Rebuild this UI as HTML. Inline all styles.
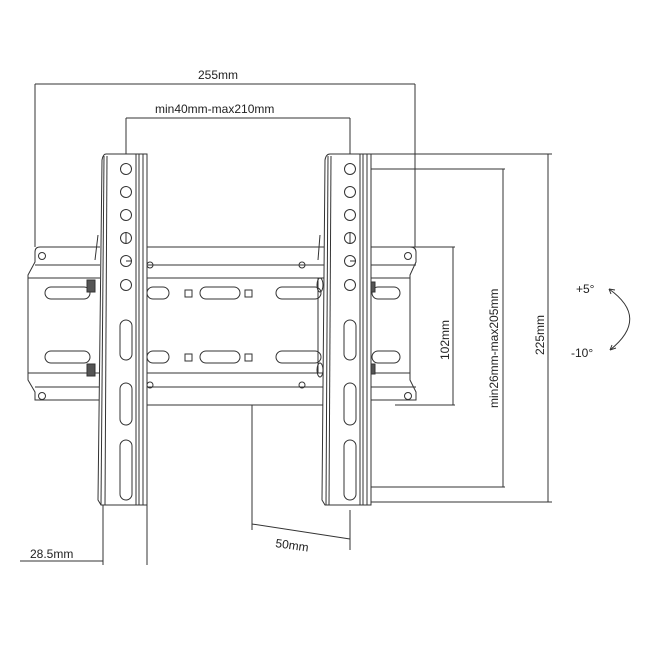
<!DOCTYPE html>
<html><head><style>
html,body{margin:0;padding:0;background:#fff;}
svg{display:block}
text{font-family:"Liberation Sans",sans-serif;font-size:12px;fill:#222}
</style></head><body>
<svg width="650" height="650" viewBox="0 0 650 650" xmlns="http://www.w3.org/2000/svg">
<g fill="none" stroke="#333" stroke-width="1">
<!-- dimension lines -->
<line x1="35" y1="84" x2="415" y2="84"/>
<line x1="35" y1="84" x2="35" y2="247"/>
<line x1="415" y1="84" x2="415" y2="247"/>
<line x1="126" y1="118" x2="350" y2="118"/>
<line x1="126" y1="118" x2="126" y2="165"/>
<line x1="350" y1="118" x2="350" y2="165"/>
<line x1="370" y1="154" x2="552" y2="154"/>
<line x1="370" y1="502" x2="552" y2="502"/>
<line x1="548" y1="154" x2="548" y2="502"/>
<line x1="355" y1="169" x2="505" y2="169"/>
<line x1="355" y1="487" x2="505" y2="487"/>
<line x1="503" y1="169" x2="503" y2="487"/>
<line x1="395" y1="247" x2="455" y2="247"/>
<line x1="395" y1="405" x2="455" y2="405"/>
<line x1="453" y1="247" x2="453" y2="405"/>
<line x1="20" y1="561" x2="103" y2="561"/>
<line x1="103" y1="505" x2="103" y2="565"/>
<line x1="147" y1="505" x2="147" y2="565"/>
<line x1="252" y1="405" x2="252" y2="530"/>
<line x1="350" y1="510" x2="350" y2="550"/>
<line x1="252" y1="524" x2="350" y2="539"/>
<!-- wall plate left -->
<path d="M100 247 L40 247 Q35 247 35 252 L35 262 L28 275 L28 380 L35 392 L35 400 L100 400"/>
<line x1="35" y1="265" x2="100" y2="265"/>
<line x1="28" y1="278" x2="100" y2="278"/>
<line x1="28" y1="373" x2="100" y2="373"/>
<line x1="35" y1="387" x2="100" y2="387"/>
<rect x="45" y="287" width="45" height="12" rx="6"/>
<rect x="45" y="351" width="45" height="12" rx="6"/>
<circle cx="42" cy="256" r="3.5"/><circle cx="42" cy="396" r="3.5"/>
<!-- wall plate right -->
<path d="M370 247 L410 247 Q416 247 416 252 L416 262 L410 275 L410 380 L416 392 L416 400 L370 400"/>
<line x1="370" y1="265" x2="416" y2="265"/>
<line x1="370" y1="278" x2="410" y2="278"/>
<line x1="370" y1="373" x2="410" y2="373"/>
<line x1="370" y1="387" x2="416" y2="387"/>
<rect x="372" y="287" width="28" height="12" rx="6"/>
<rect x="372" y="351" width="28" height="12" rx="6"/>
<circle cx="408" cy="256" r="3.5"/><circle cx="408" cy="396" r="3.5"/>
<!-- middle -->
<line x1="147" y1="247" x2="325" y2="247"/>
<line x1="147" y1="265" x2="325" y2="265"/>
<line x1="147" y1="278" x2="325" y2="278"/>
<line x1="147" y1="373" x2="325" y2="373"/>
<line x1="147" y1="387" x2="325" y2="387"/>
<line x1="147" y1="405" x2="325" y2="405"/>
<line x1="318" y1="278" x2="318" y2="373"/>
<rect x="147" y="287" width="22" height="12" rx="6"/><rect x="147" y="351" width="22" height="12" rx="6"/>
<rect x="185" y="290" width="7" height="7"/><rect x="185" y="354" width="7" height="7"/>
<rect x="200" y="287" width="40" height="12" rx="6"/><rect x="200" y="351" width="40" height="12" rx="6"/>
<rect x="245" y="290" width="7" height="7"/><rect x="245" y="354" width="7" height="7"/>
<rect x="276" y="287" width="45" height="12" rx="6"/><rect x="276" y="351" width="45" height="12" rx="6"/>
<circle cx="150" cy="265" r="3"/><circle cx="150" cy="385" r="3"/>
<circle cx="302" cy="265" r="3"/><circle cx="302" cy="385" r="3"/>
<ellipse cx="320" cy="285" rx="3" ry="7"/><ellipse cx="320" cy="370" rx="3" ry="7"/>
<!-- left arm -->
<path d="M147 154 L106 154 Q103 154 102 160 L98 500 L101 505 L147 505 Z" fill="#fff"/>
<line x1="104" y1="156" x2="101" y2="505"/><line x1="107" y1="156" x2="105" y2="505"/>
<line x1="136" y1="154" x2="136" y2="505"/><line x1="139" y1="154" x2="139" y2="505"/><line x1="143" y1="154" x2="143" y2="505"/>
<line x1="98" y1="235" x2="95" y2="260"/>
<!-- right arm -->
<path d="M371 154 L330 154 Q326 154 325 160 L322 500 L325 505 L371 505 Z" fill="#fff"/>
<line x1="328" y1="156" x2="326" y2="505"/><line x1="331" y1="156" x2="329" y2="505"/>
<line x1="360" y1="154" x2="360" y2="505"/><line x1="363" y1="154" x2="363" y2="505"/><line x1="367" y1="154" x2="367" y2="505"/>
<line x1="320" y1="235" x2="318" y2="260"/>
<!-- holes -->
<g>
<circle cx="126" cy="169" r="5.5"/><circle cx="126" cy="192" r="5.5"/><circle cx="126" cy="215" r="5.5"/><circle cx="126" cy="238" r="5.5"/><circle cx="126" cy="261" r="5.5"/><circle cx="126" cy="285" r="5.5"/>
<rect x="120" y="320" width="12" height="40" rx="6"/><rect x="120" y="383" width="12" height="42" rx="6"/><rect x="120" y="440" width="12" height="60" rx="6"/>
<line x1="126" y1="232" x2="126" y2="244"/><line x1="126" y1="261" x2="131" y2="261"/>
<circle cx="350" cy="169" r="5.5"/><circle cx="350" cy="192" r="5.5"/><circle cx="350" cy="215" r="5.5"/><circle cx="350" cy="238" r="5.5"/><circle cx="350" cy="261" r="5.5"/><circle cx="350" cy="285" r="5.5"/>
<rect x="344" y="320" width="12" height="40" rx="6"/><rect x="344" y="383" width="12" height="42" rx="6"/><rect x="344" y="440" width="12" height="60" rx="6"/>
<line x1="350" y1="232" x2="350" y2="244"/><line x1="350" y1="261" x2="355" y2="261"/>
</g>
<!-- nuts -->
<rect x="87" y="280" width="8" height="12" fill="#555"/><rect x="87" y="364" width="8" height="12" fill="#555"/>
<rect x="371" y="282" width="4" height="10" fill="#555"/><rect x="371" y="364" width="4" height="10" fill="#555"/>
<!-- tilt arc -->
<path d="M609 289 Q650 318 610 350"/>
<path d="M609 289 l6 1 M609 289 l2 5 M610 350 l6 -2 M610 350 l2 -5"/>
</g>
<text x="198" y="79">255mm</text>
<text x="155" y="113">min40mm-max210mm</text>
<text x="30" y="558">28.5mm</text>
<text x="275" y="547" transform="rotate(8 275 547)">50mm</text>
<text x="576" y="293">+5°</text>
<text x="571" y="357">-10°</text>
<text transform="translate(449 360) rotate(-90)">102mm</text>
<text transform="translate(498 408) rotate(-90)">min26mm-max205mm</text>
<text transform="translate(544 355) rotate(-90)">225mm</text>
</svg>
</body></html>
